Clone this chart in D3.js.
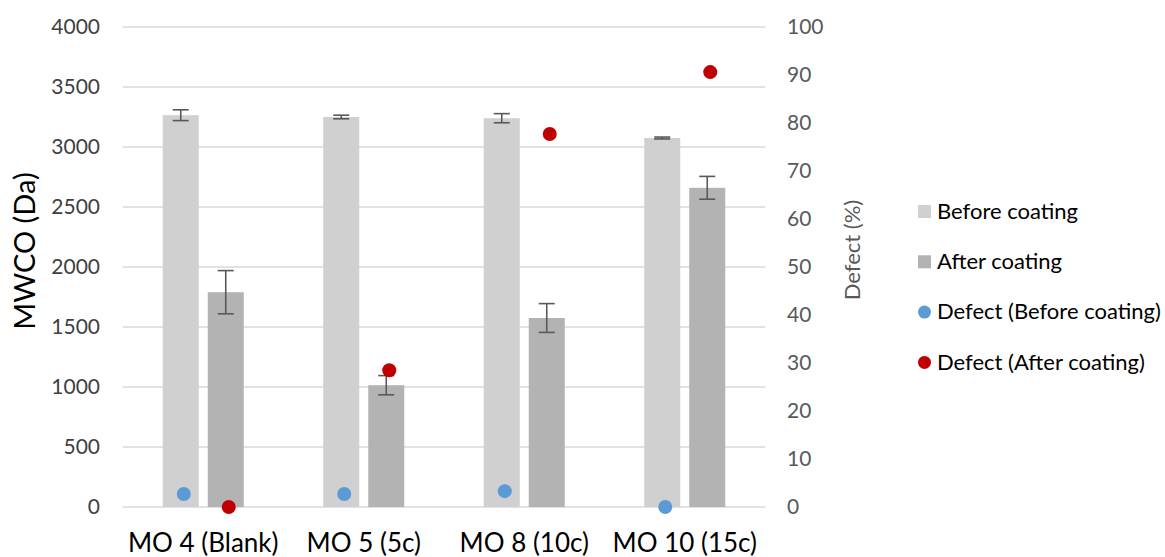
<!DOCTYPE html>
<html>
<head>
<meta charset="utf-8">
<script src="https://cdn.jsdelivr.net/npm/d3@7"></script>
<style>
  body { margin: 0; background: #fff; }
  text { font-family: Lato, "Open Sans", sans-serif; }
</style>
</head>
<body>
<svg id="grafico"></svg>
<script>
// dados
let categorias = ["MO 4 (Blank)", "MO 5 (5c)", "MO 8 (10c)", "MO 10 (15c)"];
let antes = [3265, 3250, 3240, 3075];
let antesErro = [45, 15, 38, 8];
let depois = [1790, 1015, 1575, 2660];
let depoisErro = [180, 80, 120, 95];
let defeitoAntes = [2.7, 2.7, 3.3, 0];
let defeitoDepois = [0, 28.5, 77.7, 90.6];
let ticksEsq = [0, 500, 1000, 1500, 2000, 2500, 3000, 3500, 4000];
let ticksDir = [0, 10, 20, 30, 40, 50, 60, 70, 80, 90, 100];

let width = 1165, height = 557;
let svg = d3.select("#grafico")
    .attr("width", width)
    .attr("height", height);

let x = d3.scaleBand().domain(categorias).range([123, 765]);
let y = d3.scaleLinear().domain([0, 4000]).range([507, 27]);
let y2 = d3.scaleLinear().domain([0, 100]).range([507, 27]);

let larguraBarra = 36, espaco = 9;
// posição de cada barra dentro do grupo
function xAntes(c){ return x(c) + x.bandwidth()/2 - espaco/2 - larguraBarra; }
function xDepois(c){ return x(c) + x.bandwidth()/2 + espaco/2; }

// linhas de grade
svg.append("g").selectAll("line")
    .data(ticksEsq)
    .enter().append("line")
    .attr("x1", 123).attr("x2", 765)
    .attr("y1", d => y(d)).attr("y2", d => y(d))
    .attr("stroke", "#d9d9d9")
    .attr("stroke-width", 1.5);

// eixo esquerdo
let eixoEsq = svg.append("g")
    .attr("transform", "translate(100,0)")
    .call(d3.axisLeft(y).tickValues(ticksEsq).tickFormat(d3.format("d")).tickSize(0).tickPadding(0));
eixoEsq.select(".domain").remove();
eixoEsq.selectAll("text")
    .attr("fill", "#404040")
    .style("font-size", "21px");

// eixo direito
let eixoDir = svg.append("g")
    .attr("transform", "translate(787,0)")
    .call(d3.axisRight(y2).tickValues(ticksDir).tickSize(0).tickPadding(0));
eixoDir.select(".domain").remove();
eixoDir.selectAll("text")
    .attr("fill", "#595959")
    .style("font-size", "21px");

// eixo x
let eixoX = svg.append("g")
    .call(d3.axisBottom(x).tickSize(0).tickPadding(0));
eixoX.select(".domain").remove();
eixoX.selectAll("text")
    .attr("fill", "#000")
    .attr("y", 552)
    .attr("dy", 0)
    .style("font-size", "26px");

// títulos dos eixos
svg.append("text")
    .attr("transform", "translate(35,251) rotate(-90)")
    .attr("text-anchor", "middle")
    .style("font-size", "29px")
    .attr("fill", "#000")
    .text("MWCO (Da)");

svg.append("text")
    .attr("transform", "translate(860,250) rotate(-90)")
    .attr("text-anchor", "middle")
    .style("font-size", "22px")
    .attr("fill", "#595959")
    .text("Defect (%)");

// barras
svg.append("g").selectAll("rect")
    .data(categorias)
    .enter().append("rect")
    .attr("x", d => xAntes(d))
    .attr("width", larguraBarra)
    .attr("y", (d, i) => y(antes[i]))
    .attr("height", (d, i) => y(0) - y(antes[i]))
    .attr("fill", "#d0d0d0");

svg.append("g").selectAll("rect")
    .data(categorias)
    .enter().append("rect")
    .attr("x", d => xDepois(d))
    .attr("width", larguraBarra)
    .attr("y", (d, i) => y(depois[i]))
    .attr("height", (d, i) => y(0) - y(depois[i]))
    .attr("fill", "#b3b3b3");

// barras de erro
function desenhaErro(valores, erros, posX){
    let g = svg.append("g")
        .attr("stroke", "#595959")
        .attr("stroke-width", 1.6);
    categorias.forEach(function(c, i){
        let cx = posX(c) + larguraBarra/2;
        let topo = y(valores[i] + erros[i]);
        let base = y(valores[i] - erros[i]);
        g.append("line").attr("x1", cx).attr("x2", cx).attr("y1", topo).attr("y2", base);
        g.append("line").attr("x1", cx - 8).attr("x2", cx + 8).attr("y1", topo).attr("y2", topo);
        g.append("line").attr("x1", cx - 8).attr("x2", cx + 8).attr("y1", base).attr("y2", base);
    });
}
desenhaErro(antes, antesErro, xAntes);
desenhaErro(depois, depoisErro, xDepois);

// pontos de defeito
svg.append("g").selectAll("circle")
    .data(categorias)
    .enter().append("circle")
    .attr("cx", d => xAntes(d) + larguraBarra/2 + 3)
    .attr("cy", (d, i) => y2(defeitoAntes[i]))
    .attr("r", 7)
    .attr("fill", "#5b9bd5");

svg.append("g").selectAll("circle")
    .data(categorias)
    .enter().append("circle")
    .attr("cx", d => xDepois(d) + larguraBarra/2 + 3)
    .attr("cy", (d, i) => y2(defeitoDepois[i]))
    .attr("r", 7)
    .attr("fill", "#c00000");

// legenda
let legenda = [
    {nome: "Before coating", cor: "#d0d0d0", tipo: "rect"},
    {nome: "After coating", cor: "#b3b3b3", tipo: "rect"},
    {nome: "Defect (Before coating)", cor: "#5b9bd5", tipo: "circle"},
    {nome: "Defect (After coating)", cor: "#c00000", tipo: "circle"}
];
let itens = svg.append("g").selectAll("g")
    .data(legenda)
    .enter().append("g")
    .attr("transform", (d, i) => "translate(918," + (211 + i * 50.3) + ")");
itens.filter(d => d.tipo == "rect").append("rect")
    .attr("x", 0).attr("y", -6).attr("width", 13).attr("height", 13)
    .attr("fill", d => d.cor);
itens.filter(d => d.tipo == "circle").append("circle")
    .attr("cx", 6.5).attr("cy", 0.5).attr("r", 6.5)
    .attr("fill", d => d.cor);
itens.append("text")
    .attr("x", 19)
    .attr("dy", "0.35em")
    .style("font-size", "22px")
    .attr("fill", "#000")
    .text(d => d.nome);
</script>
</body>
</html>
